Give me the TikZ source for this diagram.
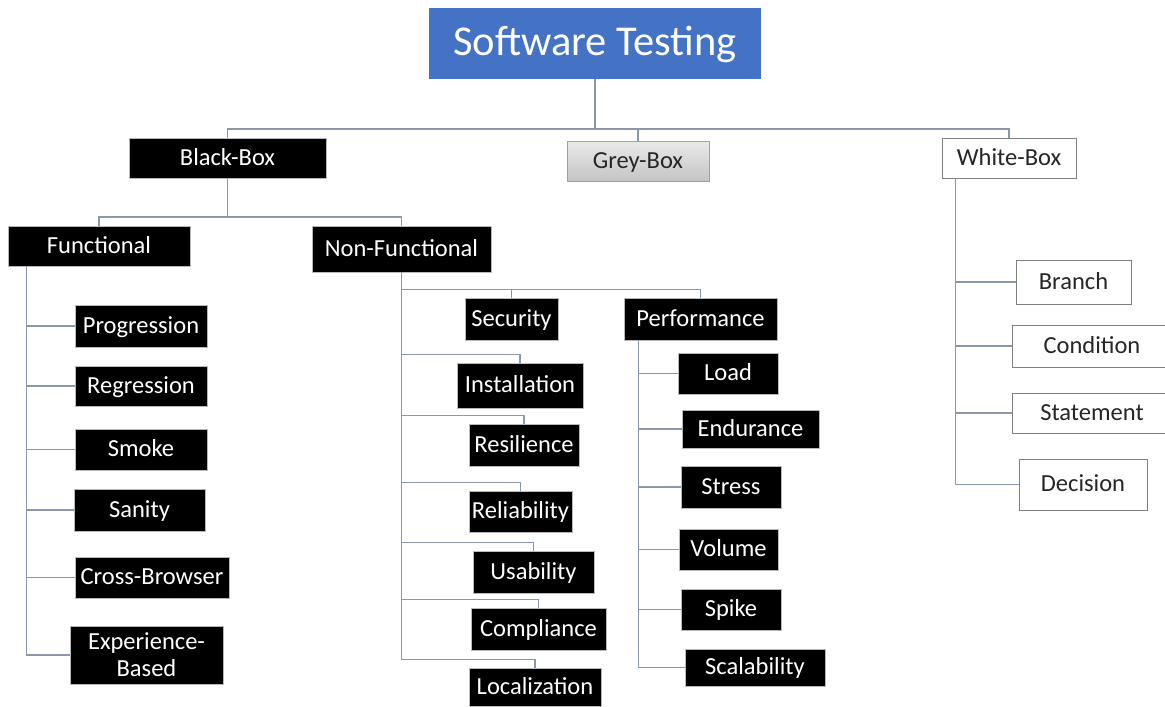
\documentclass[tikz,border=0pt]{standalone}
\usepackage{fontspec}
\setmainfont{Carlito}
\definecolor{titleblue}{RGB}{68,114,196}
\definecolor{linec}{RGB}{138,152,172}
\definecolor{greytop}{RGB}{234,234,234}
\definecolor{greybot}{RGB}{196,196,196}
\definecolor{greyedge}{RGB}{160,160,160}
\definecolor{whiteedge}{RGB}{128,128,128}
\tikzset{
  conn/.style={draw=linec, line width=1.3pt},
  basebox/.style={rectangle, inner sep=0pt, align=center,
    font=\fontsize{24.5}{27}\selectfont},
  tline/.style={text height=18pt, text depth=4pt},
  blk/.style={basebox, tline, fill=black, text=white, draw=gray!55, line width=0.6pt},
  blk2/.style={basebox, fill=black, text=white, draw=gray!55, line width=0.6pt},
  wht/.style={basebox, tline, fill=white, text=black!85, draw=whiteedge, line width=0.9pt},
  gry/.style={basebox, tline, top color=greytop, bottom color=greybot, text=black!85, draw=greyedge, line width=0.9pt},
  ttl/.style={rectangle, inner sep=0pt, fill=titleblue, text=white,
    font=\fontsize{42.5}{48}\selectfont, text height=30pt, text depth=6pt}
}
\begin{document}
\begin{tikzpicture}[x=1pt,y=-1pt]
\clip (0,0) rectangle (1165,707);
\fill[white] (0,0) rectangle (1165,707);

% top
\node[ttl, minimum width=332, minimum height=71] (title) at (595,43.5) {Software Testing};
\node[blk, minimum width=197, minimum height=40] (blackbox) at (227.5,158) {Black-Box};
\node[gry, minimum width=142, minimum height=40] (greybox) at (638,161) {Grey-Box};
\node[wht, minimum width=134, minimum height=40] (whitebox) at (1009,158) {White-Box};

% second level
\node[blk, minimum width=182, minimum height=40] (functional) at (99,246) {Functional};
\node[blk, minimum width=179, minimum height=46] (nonfunc) at (401.5,249) {Non-Functional};

% functional children
\node[blk, minimum width=132, minimum height=42] (progression) at (141,326) {Progression};
\node[blk, minimum width=132, minimum height=40] (regression) at (141,386) {Regression};
\node[blk, minimum width=132, minimum height=41] (smoke) at (141,449.5) {Smoke};
\node[blk, minimum width=131, minimum height=42] (sanity) at (139.5,510) {Sanity};
\node[blk, minimum width=154, minimum height=41] (crossbrowser) at (152,577.5) {Cross-Browser};
\node[blk2, minimum width=153, minimum height=58] (experience) at (146.5,655) {Experience-\\Based};

% non-functional children
\node[blk, minimum width=93, minimum height=42] (security) at (511.5,319) {Security};
\node[blk, minimum width=153, minimum height=42] (performance) at (700.5,319) {Performance};
\node[blk, minimum width=126, minimum height=45] (installation) at (520,385.5) {Installation};
\node[blk, minimum width=110, minimum height=42] (resilience) at (524,445) {Resilience};
\node[blk, minimum width=103, minimum height=41] (reliability) at (520.5,511.5) {Reliability};
\node[blk, minimum width=121, minimum height=42] (usability) at (533.5,572) {Usability};
\node[blk, minimum width=135, minimum height=42] (compliance) at (538.5,629) {Compliance};
\node[blk, minimum width=132, minimum height=38] (localization) at (535,687) {Localization};

% performance children
\node[blk, minimum width=100, minimum height=41] (load) at (728,373.5) {Load};
\node[blk, minimum width=137, minimum height=38] (endurance) at (750.5,429) {Endurance};
\node[blk, minimum width=100, minimum height=42] (stress) at (731,487) {Stress};
\node[blk, minimum width=99, minimum height=41] (volume) at (728.5,549.5) {Volume};
\node[blk, minimum width=100, minimum height=41] (spike) at (731,609.5) {Spike};
\node[blk, minimum width=140, minimum height=37] (scalability) at (755,667.5) {Scalability};

% white-box children
\node[wht, minimum width=115, minimum height=44] (branch) at (1073.5,282) {Branch};
\node[wht, minimum width=160, minimum height=42] (condition) at (1092,346) {Condition};
\node[wht, minimum width=160, minimum height=40] (statement) at (1092,413) {Statement};
\node[wht, minimum width=128, minimum height=51] (decision) at (1083,484.5) {Decision};

% connectors: top level
\coordinate (bar1) at (0,129);
\coordinate (bar2) at (0,217);
\draw[conn] (title.south) -- (title.south |- bar1);
\draw[conn] (blackbox.north) -- (blackbox.north |- bar1) -- (whitebox.north |- bar1) -- (whitebox.north);
\draw[conn] (greybox.north) -- (greybox.north |- bar1);

% black-box to functional / non-functional
\draw[conn] (blackbox.south) -- (blackbox.south |- bar2);
\draw[conn] (functional.north) -- (functional.north |- bar2) -- (nonfunc.north |- bar2) -- (nonfunc.north);

% functional spine
\coordinate (fsp) at ([xshift=19pt]functional.south west);
\foreach \c in {progression,regression,smoke,sanity,crossbrowser,experience}
  \draw[conn] (fsp) |- (\c.west);

% non-functional spine
\foreach \c in {security,performance,installation,resilience,reliability,usability,compliance,localization}
  \draw[conn] (\c.north) -- ++(0,-8) -| (nonfunc.south);

% performance spine
\coordinate (psp) at ([xshift=15pt]performance.south west);
\foreach \c in {load,endurance,stress,volume,spike,scalability}
  \draw[conn] (psp) |- (\c.west);

% white-box spine
\coordinate (wsp) at ([xshift=14pt]whitebox.south west);
\foreach \c in {branch,condition,statement,decision}
  \draw[conn] (wsp) |- (\c.west);
\end{tikzpicture}
\end{document}
